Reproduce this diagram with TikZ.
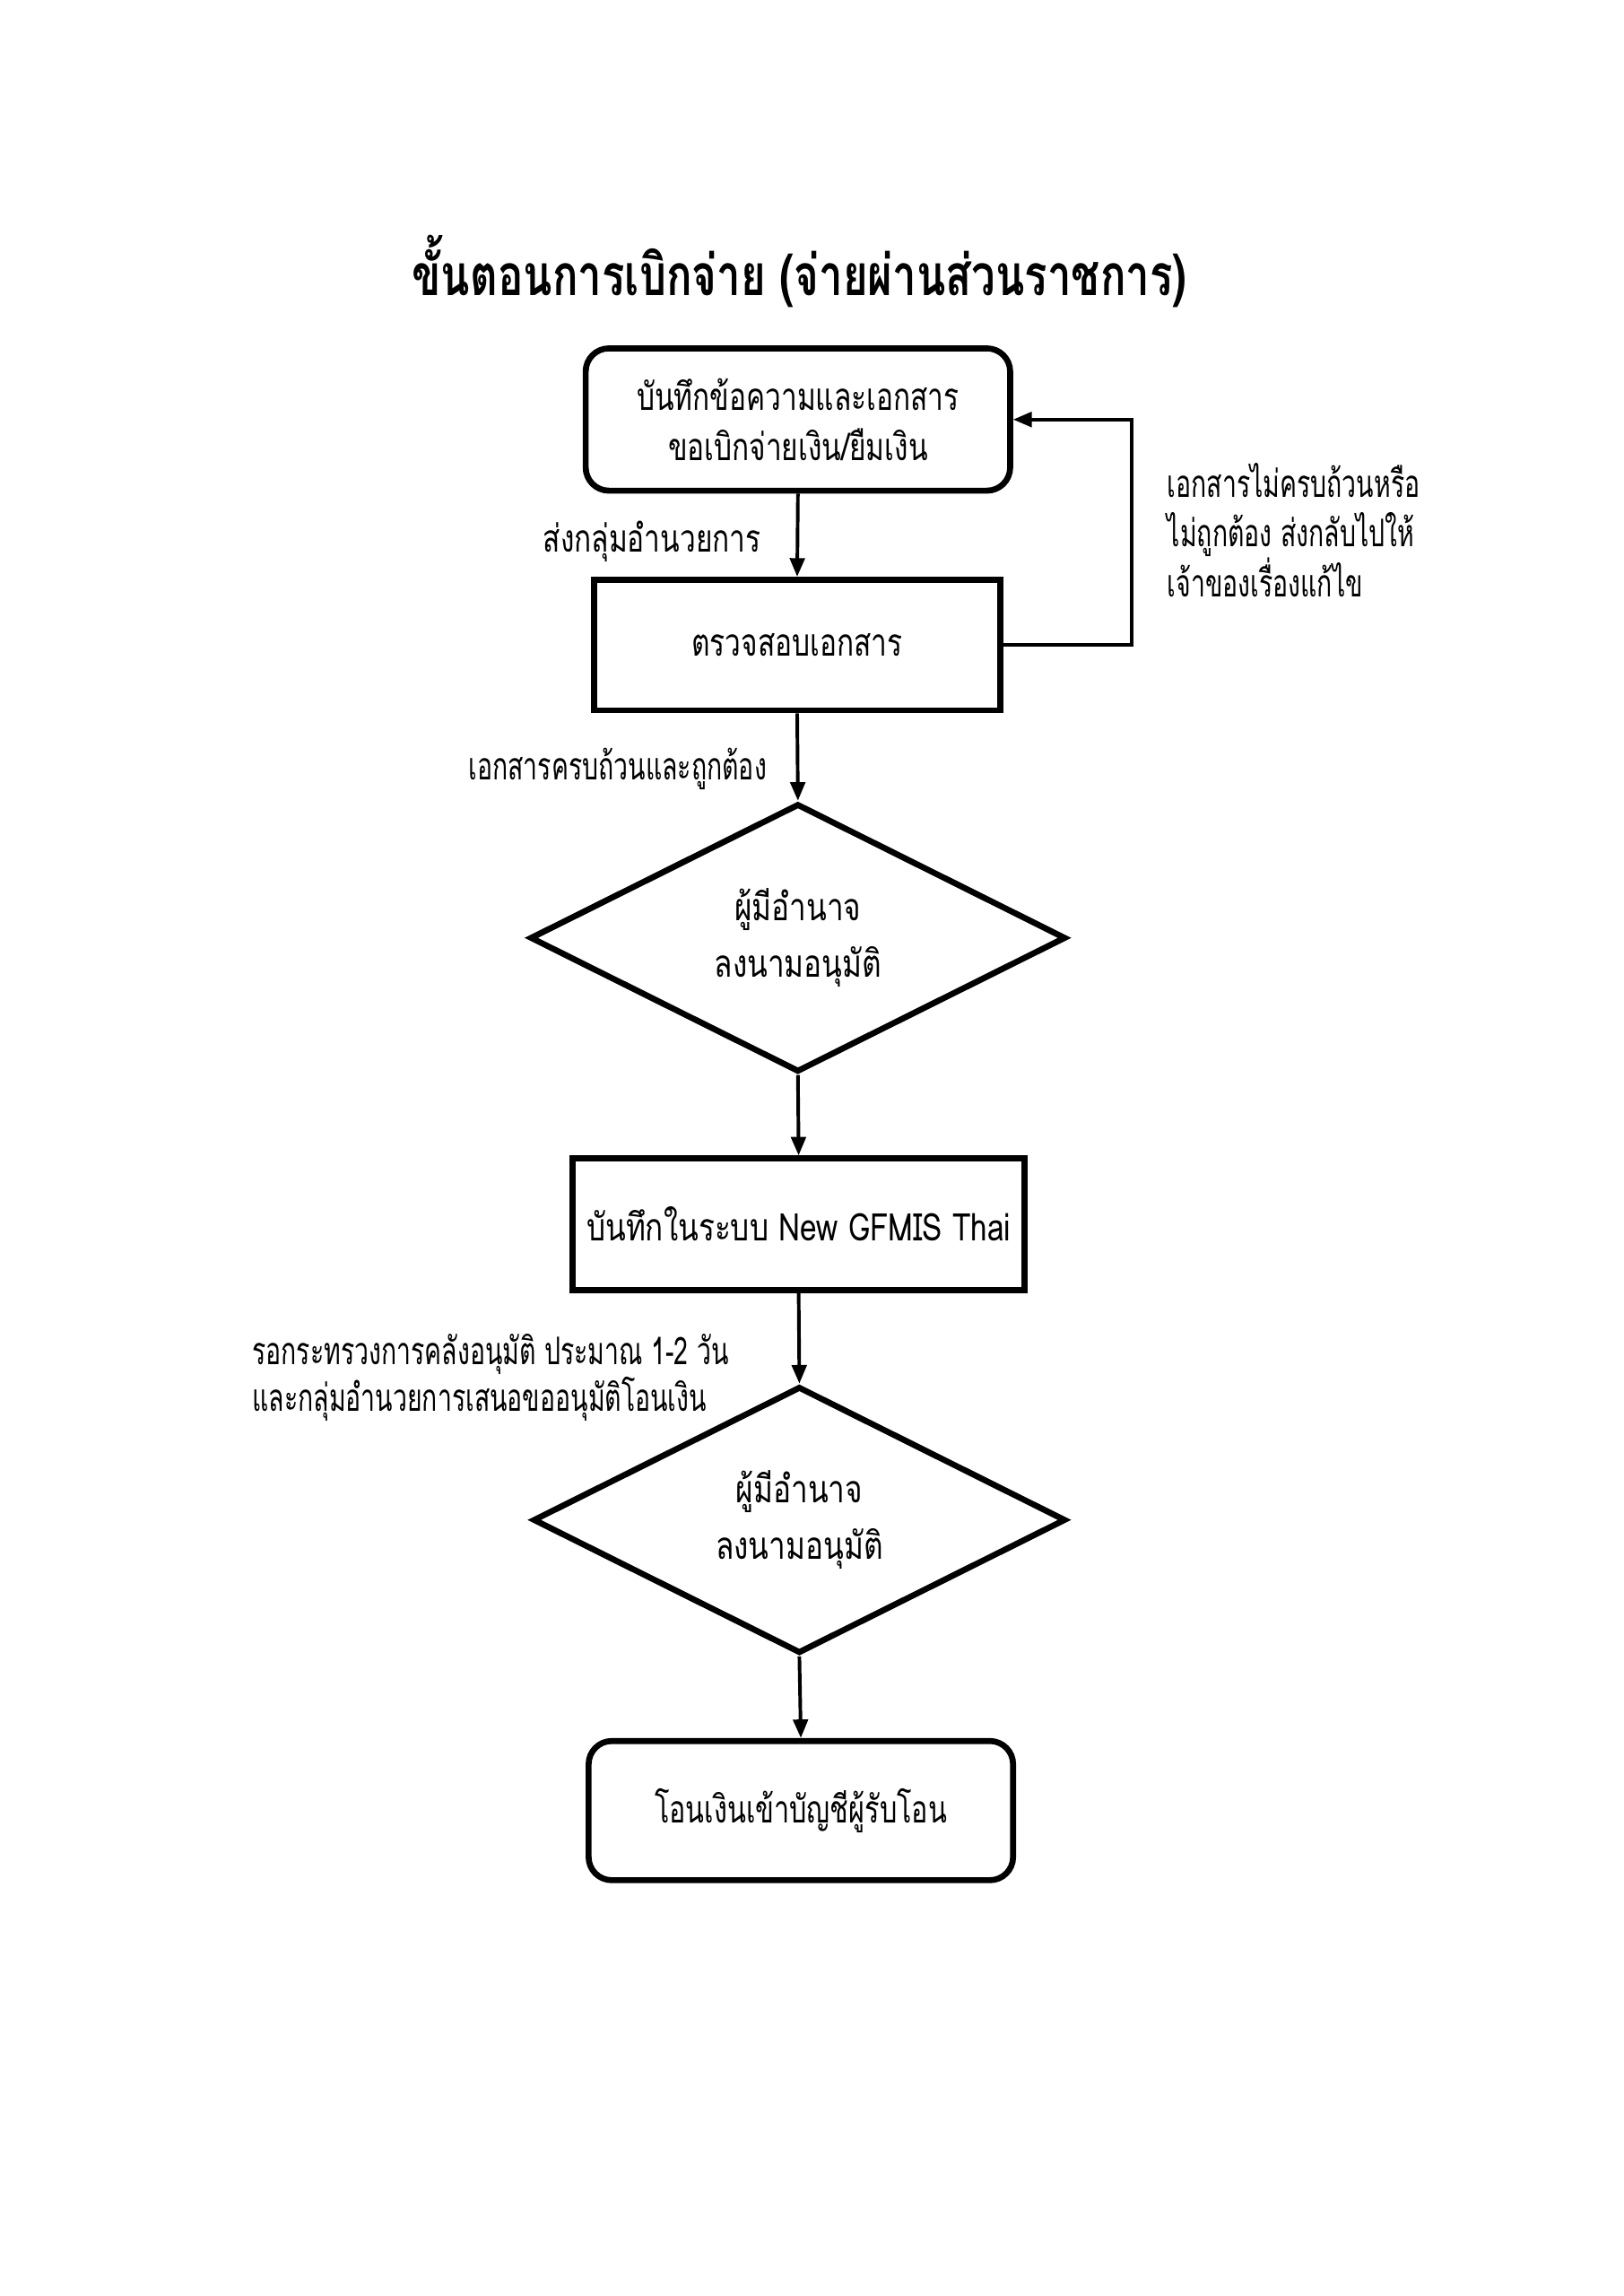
\documentclass[tikz,border=0pt]{standalone}
\usepackage{fontspec}
\usetikzlibrary{shapes.geometric,arrows.meta}
\newfontfamily\thA[Script=Thai,FakeStretch=0.745]{Loma}
\newfontfamily\thB[Script=Thai,FakeStretch=0.67]{Loma}
\newfontfamily\thC[Script=Thai,FakeStretch=0.785]{Loma}
\newfontfamily\thD[Script=Thai,FakeStretch=0.72]{Loma}
\begin{document}
\begin{tikzpicture}[x=0.18936mm,y=-0.18936mm,
  every node/.style={font=\thA\fontsize{14}{18.3}\selectfont},
  roundbox/.style={draw,line width=2.2pt,rounded corners=3mm,align=center,inner sep=0pt},
  sqbox/.style={draw,line width=2.2pt,align=center,inner sep=0pt},
  decision/.style={draw,diamond,line width=2.2pt,align=center,inner sep=0pt,font=\thC\fontsize{14}{18.3}\selectfont},
  arr/.style={line width=1.3pt,-{Triangle[length=2.4mm,width=1.9mm]}},
  lbl/.style={inner sep=0pt,font=\thB\fontsize{14}{18.3}\selectfont}]
\useasboundingbox (0,0) rectangle (1109,1568);
\node[inner sep=0pt,font=\thA\bfseries\fontsize{21}{24}\selectfont] (title) at (546,185) {ขั้นตอนการเบิกจ่าย (จ่ายผ่านส่วนราชการ)};
\node[roundbox,minimum width=54.9mm,minimum height=18.4mm] (b1) at (545,286.5) {บันทึกข้อความและเอกสาร\\ขอเบิกจ่ายเงิน/ยืมเงิน};
\node[sqbox,minimum width=52.5mm,minimum height=16.9mm] (b2) at (544.5,440.5) {ตรวจสอบเอกสาร};
\node[decision,minimum width=69.3mm,minimum height=34.7mm,aspect=2] (d1) at (545,640.5) {ผู้มีอำนาจ\\[2.5pt]ลงนามอนุมัติ};
\node[sqbox,minimum width=58.5mm,minimum height=17.0mm,font=\thC\fontsize{14}{18.3}\selectfont] (b3) at (545.5,836) {บันทึกในระบบ New GFMIS Thai};
\node[decision,minimum width=68.9mm,minimum height=34.5mm,aspect=2] (d2) at (546,1038) {ผู้มีอำนาจ\\[2.5pt]ลงนามอนุมัติ};
\node[roundbox,minimum width=54.9mm,minimum height=18.0mm,font=\thD\fontsize{14}{18.3}\selectfont] (b4) at (547,1236.5) {โอนเงินเข้าบัญชีผู้รับโอน};
\node[inner sep=0pt,anchor=east] (l1) at (520,370) {ส่งกลุ่มอำนวยการ};
\node[lbl,anchor=east] (l2) at (524,525) {เอกสารครบถ้วนและถูกต้อง};
\node[lbl,anchor=west,align=left] (l3) at (797,362) {เอกสารไม่ครบถ้วนหรือ\\ไม่ถูกต้อง ส่งกลับไปให้\\เจ้าของเรื่องแก้ไข};
\node[lbl,anchor=west,align=left,font=\thB\fontsize{14}{16.1}\selectfont] (l4) at (172,941) {รอกระทรวงการคลังอนุมัติ ประมาณ 1-2 วัน\\และกลุ่มอำนวยการเสนอขออนุมัติโอนเงิน};
\coordinate (fb) at (773,440);
\draw[arr] (b1.south) -- (b2.north);
\draw[arr] (b2.south) -- (d1.north);
\draw[arr] (d1.south) -- (b3.north);
\draw[arr] (b3.south) -- (d2.north);
\draw[arr] (d2.south) -- (b4.north);
\draw[arr] (b2.east) -- (fb |- b2.east) -- (fb |- b1.east) -- (b1.east);
\end{tikzpicture}
\end{document}
